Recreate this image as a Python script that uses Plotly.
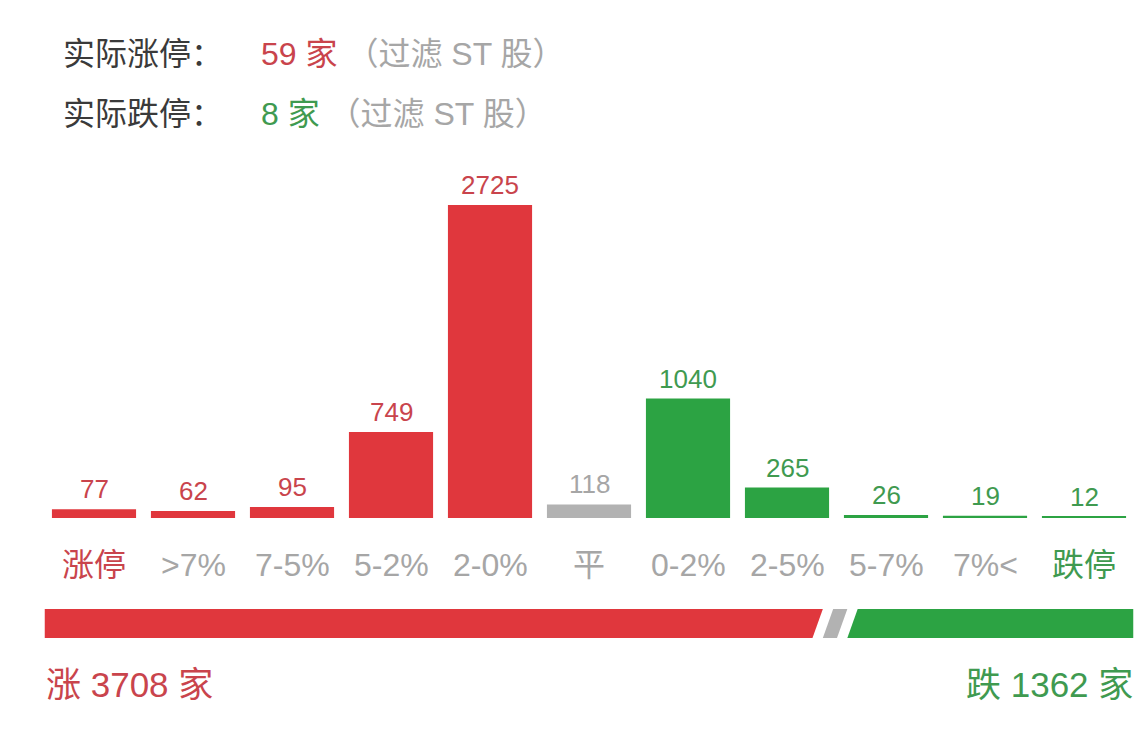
import plotly.graph_objects as go

# 数据
categories = ["涨停", ">7%", "7-5%", "5-2%", "2-0%", "平", "0-2%", "2-5%", "5-7%", "7%<", "跌停"]
counts = [77, 62, 95, 749, 2725, 118, 1040, 265, 26, 19, 12]
limit_up_real = 59
limit_down_real = 8
up_total = 3708
down_total = 1362
flat_total = 118

RED = "#e0373d"
RED_TXT = "#c9444c"
GREEN = "#2ca343"
GREEN_TXT = "#3f9a50"
GRAY = "#b2b2b2"
GRAY_TXT = "#a6a6a6"
DARK = "#3a3a3a"
FONT = "Liberation Sans, Noto Sans CJK SC"

# 页面 body 默认有 8px 边距
OFF = 8
W, H = 1148 - 2 * OFF, 744 - 2 * OFF


def py(p):
    # 参考图像素 y -> paper y
    return 1 - (p - OFF) / H


def px(p):
    return (p - OFF) / W


bar_colors = []
txt_colors = []
lab_colors = []
for i, c in enumerate(categories):
    if i < 5:
        bar_colors.append(RED)
        txt_colors.append(RED_TXT)
    elif i == 5:
        bar_colors.append(GRAY)
        txt_colors.append(GRAY_TXT)
    else:
        bar_colors.append(GREEN)
        txt_colors.append(GREEN_TXT)
    if i == 0:
        lab_colors.append(RED_TXT)
    elif i == len(categories) - 1:
        lab_colors.append(GREEN_TXT)
    else:
        lab_colors.append(GRAY_TXT)

fig = go.Figure()
fig.add_trace(go.Bar(
    x=categories, y=counts, marker_color=bar_colors, marker_line_width=0,
    hoverinfo="x+y", showlegend=False,
))

annotations = []
# 柱顶数值
for c, v, col in zip(categories, counts, txt_colors):
    annotations.append(dict(
        x=c, y=v, xref="x", yref="y", text=str(v), showarrow=False,
        yanchor="bottom", yshift=3, font=dict(size=26, color=col, family=FONT),
    ))
# 分类标签
for c, col in zip(categories, lab_colors):
    annotations.append(dict(
        x=c, y=py(565), xref="x", yref="paper", text=c, showarrow=False,
        yanchor="middle", font=dict(size=32, color=col, family=FONT),
    ))

# 顶部说明
for yy, label, num, col in [(54, "实际涨停：", limit_up_real, RED_TXT),
                             (114, "实际跌停：", limit_down_real, GREEN_TXT)]:
    annotations.append(dict(
        x=px(61), y=py(yy), xref="paper", yref="paper", text=label,
        showarrow=False, xanchor="left", yanchor="middle",
        font=dict(size=32, color=DARK, family=FONT),
    ))
    annotations.append(dict(
        x=px(259), y=py(yy), xref="paper", yref="paper",
        text=f"{num} 家 <span style='color:{GRAY_TXT}'>（过滤 ST 股）</span>",
        showarrow=False, xanchor="left", yanchor="middle",
        font=dict(size=32, color=col, family=FONT),
    ))

# 底部涨跌家数
annotations.append(dict(
    x=px(44), y=py(684), xref="paper", yref="paper", text=f"涨 {up_total} 家",
    showarrow=False, xanchor="left", yanchor="middle",
    font=dict(size=35, color=RED_TXT, family=FONT),
))
annotations.append(dict(
    x=px(1135), y=py(684), xref="paper", yref="paper", text=f"跌 {down_total} 家",
    showarrow=False, xanchor="right", yanchor="middle",
    font=dict(size=35, color=GREEN_TXT, family=FONT),
))

# 涨跌比例条（x2 轴, 0..总家数）
total = up_total + flat_total + down_total
slant = total * 0.0095
gap = total * 0.0095
gray_w = total * 0.013
y0, y1 = py(638), py(609)
g0 = up_total + gap
g1 = g0 + gray_w
gr0 = g1 + gap


def poly(xs, ys):
    return "M " + " L ".join(f"{a},{b}" for a, b in zip(xs, ys)) + " Z"


shapes = [
    dict(type="path", xref="x2", yref="paper", line_width=0, fillcolor=RED,
         path=poly([0, 0, up_total, up_total - slant], [y0, y1, y1, y0])),
    dict(type="path", xref="x2", yref="paper", line_width=0, fillcolor=GRAY,
         path=poly([g0 - slant, g0, g1, g1 - slant], [y0, y1, y1, y0])),
    dict(type="path", xref="x2", yref="paper", line_width=0, fillcolor=GREEN,
         path=poly([gr0 - slant, gr0, total, total], [y0, y1, y1, y0])),
]

dom = [px(44.5), px(1133.5)]
fig.update_layout(
    width=W, height=H,
    margin=dict(l=0, r=0, t=0, b=0),
    paper_bgcolor="white", plot_bgcolor="white",
    bargap=0.15,
    xaxis=dict(domain=dom, showticklabels=False, showgrid=False, zeroline=False,
               showline=False, ticks=""),
    yaxis=dict(domain=[py(518), py(205)], range=[0, max(counts)], visible=False,
               fixedrange=True),
    xaxis2=dict(domain=dom, range=[0, total], visible=False, overlaying="x"),
    annotations=annotations,
    shapes=shapes,
    font=dict(family=FONT),
)

fig.write_html("out.html")
